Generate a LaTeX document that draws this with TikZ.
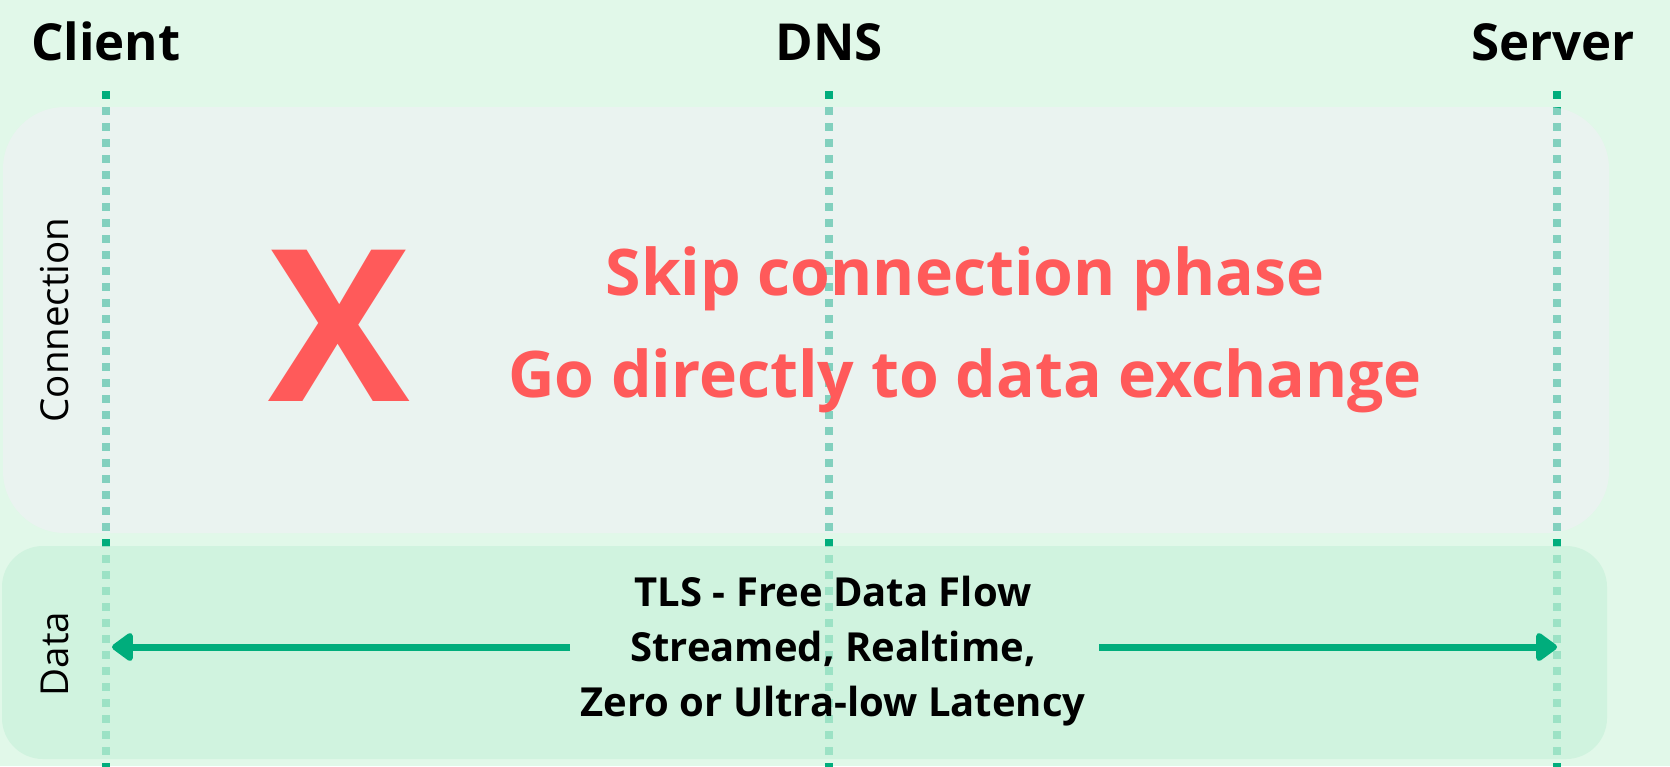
\documentclass[tikz,border=0pt]{standalone}
\usepackage{fontspec}
\setmainfont{Open Sans}
\usetikzlibrary{arrows.meta}
\definecolor{bgcol}{RGB}{225,248,233}
\definecolor{connfill}{RGB}{242,239,246}
\definecolor{datafill}{RGB}{203,242,220}
\definecolor{lifegreen}{RGB}{0,173,124}
\definecolor{redtxt}{RGB}{255,90,90}
\begin{document}
\begin{tikzpicture}[x=1pt,y=-1pt,
  header/.style={inner sep=0pt,font=\fontsize{51}{61}\selectfont\bfseries},
  lifeline/.style={draw=lifegreen,line width=8pt,dash pattern=on 8pt off 8pt},
  panelconn/.style={fill=connfill,fill opacity=0.54,rounded corners=62pt},
  paneldata/.style={fill=datafill,fill opacity=0.77,rounded corners=41pt},
  sidelabel/.style={inner sep=0pt,rotate=90,font=\fontsize{38.5}{46}\selectfont},
  redtext/.style={inner sep=0pt,text=redtxt,font=\fontsize{64.3}{78}\selectfont\bfseries},
  bigx/.style={inner sep=0pt,text=redtxt,font=\fontsize{212}{250}\selectfont\bfseries},
  datatext/.style={inner sep=0pt,align=center,font=\fontsize{40}{55}\selectfont\bfseries},
  flow/.style={draw=lifegreen,line width=7pt,-{Triangle[length=23pt,width=32pt,round]}}
]
\useasboundingbox (0,0) rectangle (1670,766);
\fill[bgcol] (0,0) rectangle (1670,766);

% headers
\node[header,anchor=base west] (client) at (31,60) {Client};
\node[header,anchor=base] (dns) at (829,60) {DNS};
\node[header,anchor=base east] (server) at (1635,60) {Server};

% lifelines
\coordinate (clt) at (105.7,91);  \coordinate (clb) at (105.7,770);
\coordinate (dnt) at (828.6,91);  \coordinate (dnb) at (828.6,770);
\coordinate (svt) at (1557,91);   \coordinate (svb) at (1557,770);
\draw[lifeline] (clt) -- (clb);
\draw[lifeline] (dnt) -- (dnb);
\draw[lifeline] (svt) -- (svb);

% panels
\path[panelconn] (3,107) rectangle (1609,533);
\path[paneldata] (2,546) rectangle (1607,759);

% side labels
\node[sidelabel] (conn) at (55,320) {Connection};
\node[sidelabel] (data) at (55,654) {Data};

% connection phase content
\node[bigx,anchor=base] (x) at (339,401) {X};
\node[redtext,anchor=base] (skip) at (965,295) {Skip connection phase};
\node[redtext,anchor=base] (go) at (965,397) {Go directly to data exchange};

% data phase
\node[datatext,anchor=base] (tls) at (833,606) {TLS - Free Data Flow};
\node[datatext,anchor=base] (stream) at (833,661) {Streamed, Realtime,};
\node[datatext,anchor=base] (zero) at (833,716) {Zero or Ultra-low Latency};
\coordinate (la) at (570,647); \coordinate (lt) at (112,647);
\coordinate (ra) at (1099,647); \coordinate (rt) at (1557,647);
\draw[flow] (la) -- (lt);
\draw[flow] (ra) -- (rt);
\end{tikzpicture}
\end{document}
